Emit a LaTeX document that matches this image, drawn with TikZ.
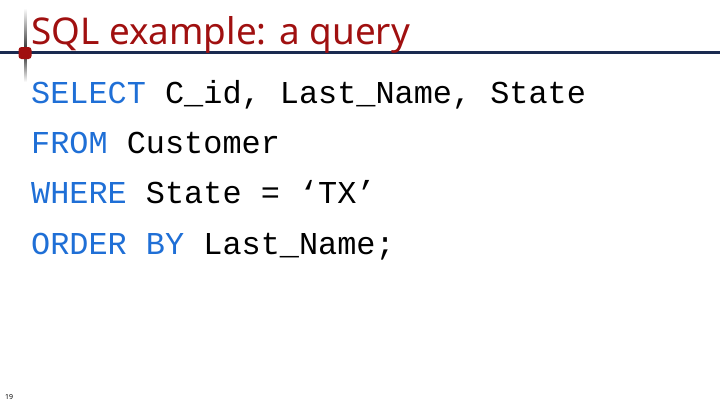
\documentclass[tikz,border=0pt]{standalone}
\usepackage{fontspec}
\setmainfont{Liberation Mono}
\newfontfamily\titlefont{Noto Sans}
\definecolor{kw}{HTML}{1F6FD6}
\definecolor{tred}{HTML}{A01010}
\definecolor{navy}{HTML}{1A2A50}
\tikzset{code/.style={anchor=base west,inner sep=0pt,font=\fontsize{32}{32}\selectfont}}
\begin{document}
\begin{tikzpicture}[x=1bp,y=-1bp]
\useasboundingbox (0,0) rectangle (720,405);
\shade[top color=white,bottom color=gray!30!black] (24,8) rectangle (26.5,52);
\shade[top color=gray!30!black,bottom color=white] (24,52) rectangle (26.5,82);
\fill[navy] (0,51) rectangle (720,53.5);
\node[fill=tred,minimum width=13bp,minimum height=12bp,inner sep=0pt,rounded corners=3bp] (logo) at (25,53) {};
\node[anchor=base west,inner sep=0pt,text=tred,font=\titlefont\fontsize{37}{37}\selectfont] (title) at (31,44) {SQL example: a query};
\node[code] (l1) at (31,103) {\textcolor{kw}{SELECT} C\_id, Last\_Name, State};
\node[code] (l2) at (31,153) {\textcolor{kw}{FROM} Customer};
\node[code] (l3) at (31,203) {\textcolor{kw}{WHERE} State = ‘TX’};
\node[code] (l4) at (31,254) {\textcolor{kw}{ORDER BY} Last\_Name;};
\node[anchor=base west,inner sep=0pt,font=\titlefont\fontsize{7}{7}\selectfont] (pg) at (5,399) {19};
\end{tikzpicture}
\end{document}
